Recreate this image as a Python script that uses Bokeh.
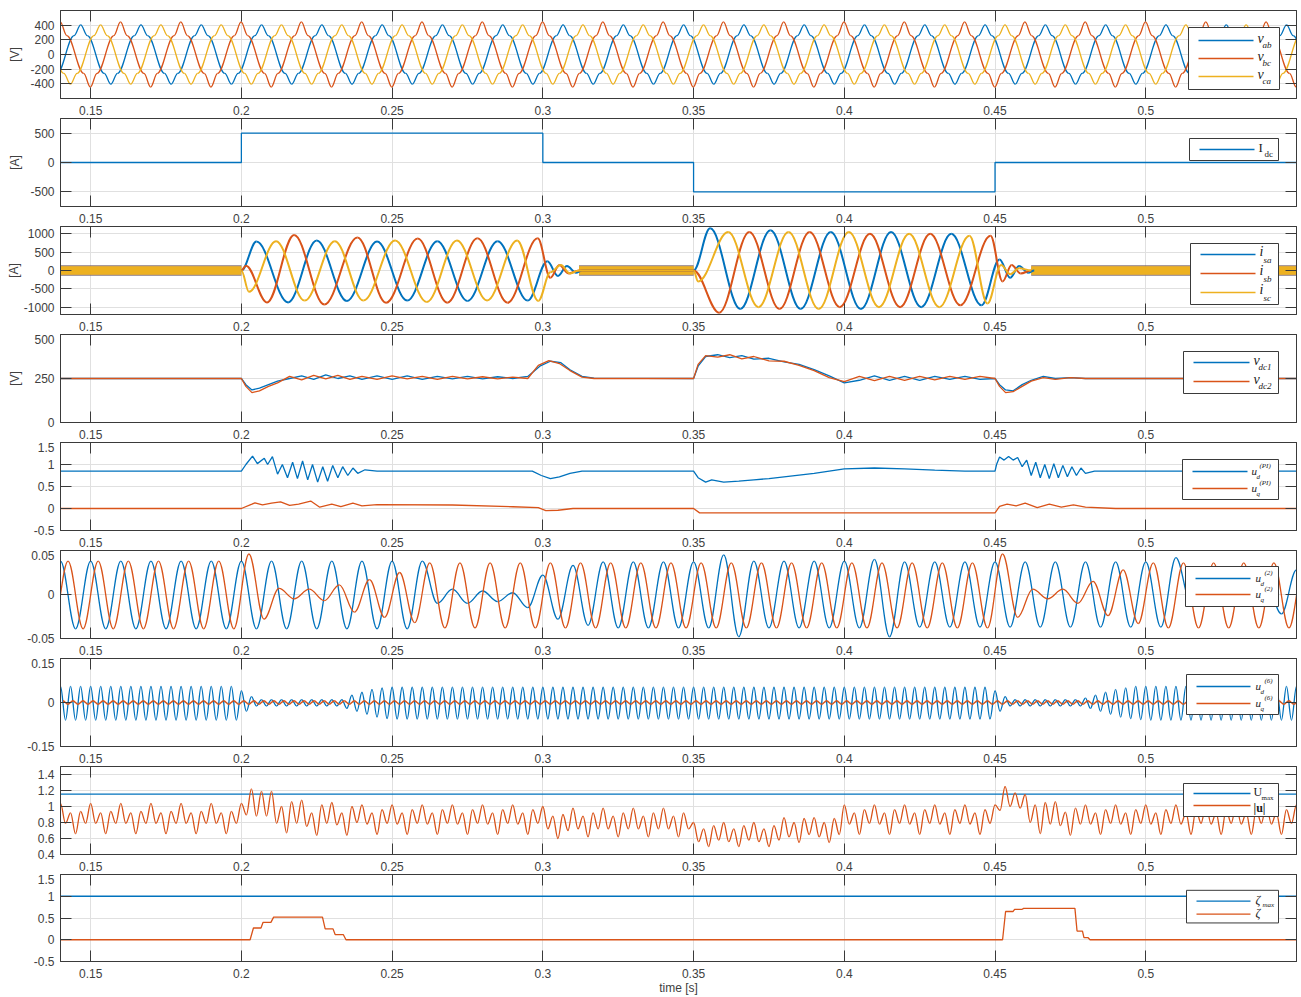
import numpy as np
from bokeh.plotting import figure
from bokeh.layouts import column
from bokeh.models import LinearAxis, FixedTicker, Range1d, NumeralTickFormatter, CustomJSTickFormatter
from bokeh.core.properties import value
from bokeh.embed import file_html
from bokeh.resources import INLINE

BLUE, RED, YEL = "#0072BD", "#D95319", "#EDB120"
AX = "#3a3a3a"
GRID = "#e0e0e0"
LBL = "#404040"
T0, T1 = 0.14, 0.55
x_ticks = [0.15, 0.2, 0.25, 0.3, 0.35, 0.4, 0.45, 0.5]

# ---------------- data ----------------
# Panel 1: line voltages (50 Hz), keypoints of one period [ms after peak]
v_period = 0.02
v_shape_ms = [0.0, 2.2, 7.8, 10.0, 12.2, 17.8]
v_shoulder = 258
v_ab_peak, v_bc_peak, v_ca_peak = 405, 445, 405
v_ab_first_peak, v_bc_first_peak, v_ca_first_peak = 0.1467, 0.1399, 0.1533

# Panel 2: dc current steps
idc_t = [0.14, 0.2, 0.3, 0.35, 0.45, 0.55]
idc_v = [0, 500, 0, -500, 0, 0]

# Panel 3: phase currents, extrema (t, value) during the active intervals; idle switching-noise band
i_noise_a, i_noise_b, i_noise_c = 150, 140, 115
i_idle = [(0.14, 0.2), (0.312, 0.35), (0.462, 0.55)]
isa_t = [0.2, 0.205, 0.2155, 0.225, 0.235, 0.245, 0.255, 0.265, 0.275, 0.285, 0.295, 0.3015, 0.305, 0.308, 0.311, 0.313,
         0.35, 0.3555, 0.3655, 0.3755, 0.3855, 0.3955, 0.4055, 0.4155, 0.4255, 0.4355, 0.4455, 0.4515, 0.455, 0.458, 0.461, 0.463]
isa_v = [0, 790, -870, 820, -830, 790, -820, 800, -830, 800, -820, 250, -150, 120, -60, 0,
         0, 1150, -1050, 1100, -1050, 1050, -1050, 1050, -1000, 1000, -950, 300, -200, 120, -60, 0]
isb_t = [0.2, 0.2015, 0.2085, 0.2175, 0.2275, 0.2385, 0.248, 0.2585, 0.2683, 0.2783, 0.2883, 0.2983, 0.3025, 0.3055, 0.3085, 0.312,
         0.35, 0.3585, 0.3685, 0.3785, 0.3885, 0.3985, 0.4085, 0.4185, 0.4285, 0.4385, 0.4485, 0.4525, 0.4555, 0.4585, 0.462]
isb_v = [0, 130, -870, 970, -930, 900, -880, 870, -880, 880, -880, 880, -200, 150, -80, 0,
         0, -1150, 1050, -1050, 1050, -1000, 1000, -1000, 1000, -950, 950, -300, 150, -80, 0]
isc_t = [0.2, 0.2025, 0.2115, 0.221, 0.231, 0.2405, 0.251, 0.2615, 0.2715, 0.2815, 0.2915, 0.2985, 0.3025, 0.306, 0.309, 0.312,
         0.35, 0.3515, 0.3615, 0.3715, 0.3815, 0.3915, 0.4015, 0.4115, 0.4215, 0.4315, 0.4415, 0.4475, 0.452, 0.455, 0.458, 0.462]
isc_v = [0, -580, 800, -820, 800, -820, 820, -860, 820, -820, 820, -830, -50, 150, -80, 0,
         0, -300, 1050, -1000, 1050, -1050, 1050, -1000, 1000, -1000, 950, -900, 150, -100, 60, 0]

# Panel 4: dc-link voltages (keypoints)
vdc1_t = [0.14, 0.2, 0.2015, 0.2035, 0.206, 0.209, 0.212, 0.216, 0.22, 0.224, 0.228, 0.232, 0.236, 0.24, 0.245, 0.25, 0.255,
          0.26, 0.265, 0.27, 0.275, 0.28, 0.285, 0.29, 0.295, 0.299, 0.3025, 0.306, 0.309, 0.313, 0.317, 0.35, 0.3515, 0.354,
          0.358, 0.362, 0.366, 0.37, 0.375, 0.38, 0.385, 0.39, 0.395, 0.4, 0.405, 0.41, 0.415, 0.42, 0.425, 0.43, 0.435,
          0.44, 0.445, 0.45, 0.4515, 0.4535, 0.456, 0.459, 0.462, 0.466, 0.47, 0.475, 0.48, 0.55]
vdc1_v = [250, 250, 215, 185, 195, 215, 235, 250, 265, 245, 270, 250, 265, 245, 265, 245, 265,
          245, 262, 248, 262, 248, 260, 250, 262, 320, 348, 340, 300, 262, 252, 250, 320, 375,
          385, 368, 380, 360, 365, 345, 330, 300, 265, 225, 240, 265, 240, 262, 240, 262, 245,
          262, 245, 250, 215, 185, 180, 215, 240, 262, 250, 255, 250, 250]
vdc2_t = [0.14, 0.2, 0.2015, 0.2035, 0.206, 0.209, 0.212, 0.216, 0.22, 0.224, 0.228, 0.232, 0.236, 0.24, 0.245, 0.25, 0.255,
          0.26, 0.265, 0.27, 0.275, 0.28, 0.285, 0.29, 0.295, 0.2985, 0.302, 0.3055, 0.309, 0.313, 0.317, 0.35, 0.3515, 0.354,
          0.358, 0.362, 0.366, 0.37, 0.375, 0.38, 0.385, 0.39, 0.395, 0.4, 0.405, 0.41, 0.415, 0.42, 0.425, 0.43, 0.435,
          0.44, 0.445, 0.45, 0.4515, 0.4535, 0.456, 0.459, 0.462, 0.466, 0.47, 0.475, 0.48, 0.55]
vdc2_v = [250, 250, 205, 170, 180, 205, 225, 262, 242, 268, 248, 268, 245, 262, 245, 265, 248,
          262, 245, 262, 248, 260, 248, 258, 250, 325, 352, 335, 295, 258, 250, 250, 330, 380,
          372, 385, 362, 375, 350, 348, 325, 295, 255, 232, 262, 238, 262, 240, 262, 242, 262,
          245, 262, 250, 205, 170, 175, 205, 235, 255, 245, 255, 250, 250]

# Panel 5: PI voltage references (keypoints)
ud_pi_t = [0.14, 0.2, 0.2015, 0.2037, 0.2053, 0.2076, 0.2087, 0.2103, 0.212, 0.2136, 0.2153, 0.217, 0.2186, 0.2203,
           0.222, 0.2236, 0.2253, 0.227, 0.2286, 0.2303, 0.232, 0.2336, 0.2353, 0.237, 0.2386, 0.241, 0.245, 0.2965,
           0.2995, 0.3025, 0.3055, 0.309, 0.313, 0.35, 0.3515, 0.354, 0.356, 0.36, 0.365, 0.37, 0.375, 0.38, 0.385,
           0.39, 0.395, 0.4, 0.41, 0.42, 0.43, 0.44, 0.45, 0.4505, 0.4515, 0.453, 0.4545, 0.456, 0.4575, 0.459,
           0.4605, 0.462, 0.4635, 0.465, 0.4665, 0.468, 0.4695, 0.471, 0.4725, 0.474, 0.4755, 0.477, 0.4785, 0.48,
           0.483, 0.55]
ud_pi_v = [0.85, 0.85, 1.0, 1.19, 1.02, 1.14, 1.0, 1.18, 0.78, 1.0, 0.7, 1.05, 0.68, 1.08, 0.65, 1.0, 0.6, 0.95,
           0.62, 0.98, 0.7, 0.95, 0.75, 0.92, 0.8, 0.88, 0.85, 0.85,
           0.75, 0.68, 0.72, 0.8, 0.85, 0.85, 0.7, 0.6, 0.65, 0.6, 0.62, 0.65, 0.68, 0.72, 0.76,
           0.8, 0.85, 0.9, 0.92, 0.9, 0.87, 0.85, 0.85, 1.0, 1.17, 1.1, 1.18, 1.1, 1.16, 0.95,
           1.1, 0.75, 1.05, 0.7, 1.0, 0.68, 1.02, 0.7, 0.98, 0.72, 0.95, 0.75, 0.92, 0.8,
           0.85, 0.85]
uq_pi_t = [0.14, 0.2, 0.2035, 0.2045, 0.207, 0.21, 0.213, 0.216, 0.219, 0.223, 0.226, 0.23, 0.233, 0.237, 0.24,
           0.245, 0.27, 0.29, 0.2985, 0.301, 0.305, 0.31, 0.35, 0.352, 0.45, 0.4515, 0.454, 0.457, 0.46, 0.464,
           0.468, 0.472, 0.476, 0.48, 0.49, 0.55]
uq_pi_v = [0.0, 0.0, 0.1, 0.13, 0.08, 0.12, 0.15, 0.07, 0.1, 0.17, 0.03, 0.1, 0.04, 0.12, 0.06, 0.09, 0.08, 0.04,
           0.02, -0.05, -0.04, 0.0, 0.0, -0.1, -0.1, 0.05, 0.1, 0.06, 0.12, 0.02, 0.1, 0.03, 0.08, 0.03, 0.0, 0.0]

# Panel 6: 2nd-harmonic references, extrema every half period (100 Hz)
u2_half = 0.005
u2d_first = 0.140
u2d_v = ([0.038, -0.039] * 12 + [0.038, -0.010, 0.006, -0.010, 0.004, -0.008, 0.002, -0.015, 0.022, -0.028, 0.033, -0.035]
         + [0.037, -0.038] * 4 + [0.045, -0.048] + [0.038, -0.038] * 4 + [0.040, -0.048] + [0.037, -0.037] * 9
         + [0.042, -0.010, 0.005, -0.010, 0.004, -0.012, 0.012, -0.022, 0.028, -0.033] + [0.037, -0.038] * 5 + [0.037])
u2q_first = 0.1375
u2q_v = ([-0.038] + [0.038, -0.039] * 6 + [0.046, -0.028, 0.007, -0.005, 0.006, -0.007, 0.011, -0.020, 0.017, -0.026,
         0.025, -0.032] + [0.036, -0.038] * 19 + [0.046, -0.026, 0.006, -0.005, 0.006, -0.010, 0.015, -0.024, 0.028,
         -0.033] + [0.036, -0.038] * 6)

# Panel 7: 6th-harmonic references, extrema every half period (300 Hz)
u6_half = 1.0 / 600
u6d_first = 0.140
u6d_v = ([0.055, -0.060] * 18 + [0.040, -0.030, 0.020] + [-0.012, 0.010] * 9
         + [-0.020, 0.025, -0.030, 0.035, -0.040, 0.045, -0.050, 0.050, -0.055] + [0.052, -0.056] * 60
         + [0.040, -0.030, 0.020] + [-0.012, 0.010] * 7 + [-0.012]
         + [0.015, -0.020, 0.025, -0.030, 0.035, -0.040, 0.045, -0.050, 0.050, -0.055, 0.055, -0.058]
         + [0.055, -0.060] * 16)
u6q_first = 0.1408
u6q_v = [0.006, -0.006] * 125

# Panel 8: |u| extrema every half period (300 Hz) and limit
umax = 1.155
uabs_first = 0.140
uabs_v = ([1.04, 0.79, 0.92, 0.66, 0.94, 0.79] * 6
          + [1.04, 0.895, 1.22, 0.88, 1.19, 0.88, 1.19, 0.79, 1.00, 0.67, 1.06, 0.79,
             1.08, 0.75, 0.92, 0.64, 1.02, 0.79, 1.05, 0.77, 0.92, 0.64, 1.00, 0.80]
          + [1.02, 0.78, 0.92, 0.65, 0.96, 0.79] * 6
          + [1.00, 0.72, 0.88, 0.60, 0.90, 0.70]
          + [0.98, 0.72, 0.88, 0.62, 0.92, 0.72] * 4
          + [0.80, 0.56, 0.72, 0.50, 0.76, 0.58] * 3
          + [0.86, 0.62, 0.80, 0.55, 0.85, 0.65] * 2
          + [1.02, 0.78, 0.92, 0.65, 0.96, 0.79] * 5
          + [1.02, 0.95, 1.25, 1.00, 1.17, 0.98]
          + [1.15, 0.80, 1.02, 0.66, 1.05, 0.78, 1.06, 0.76, 0.93, 0.64, 0.98, 0.78]
          + [1.02, 0.78, 0.92, 0.65, 0.96, 0.79] * 7 + [1.02])

# Panel 9: modulation-index variables
zeta_max = 1.0
zeta_t = [0.14, 0.2029, 0.2040, 0.2065, 0.2072, 0.2098, 0.2107, 0.2269, 0.2278, 0.2304, 0.2311, 0.2338, 0.2347,
          0.4525, 0.4535, 0.4560, 0.4565, 0.4590, 0.4595, 0.4765, 0.4772, 0.4790, 0.4795, 0.4808, 0.4815, 0.55]
zeta_v = [0, 0, 0.27, 0.27, 0.40, 0.40, 0.52, 0.52, 0.25, 0.25, 0.12, 0.12, 0,
          0, 0.65, 0.65, 0.70, 0.70, 0.72, 0.72, 0.20, 0.20, 0.05, 0.05, 0, 0]

# ---------------- helpers ----------------
FRAME_L, FRAME_W, FRAME_H, PANEL_STEP, FIRST_TOP = 60, 1236, 88, 108, 10


def smooth(p, ts, ys, color, width=1.3, k=0.36):
    ts = np.asarray(ts, float)
    ys = np.asarray(ys, float)
    d = np.diff(ts)
    p.bezier(x0=ts[:-1], y0=ys[:-1], x1=ts[1:], y1=ys[1:],
             cx0=ts[:-1] + k * d, cy0=ys[:-1], cx1=ts[1:] - k * d, cy1=ys[1:],
             line_color=color, line_width=width)


def regular_times(first, half, n):
    return first + half * np.arange(n)


def v_keypoints(first_peak, peak):
    vals = [peak, v_shoulder, -v_shoulder, -peak, -v_shoulder, v_shoulder]
    ts, ys = [], []
    k = -1
    while first_peak + k * v_period < T1 + v_period:
        base = first_peak + k * v_period
        for off, val in zip(v_shape_ms, vals):
            ts.append(base + off / 1000.0)
            ys.append(val)
        k += 1
    return ts, ys


def make_panel(idx, ylo, yhi, yticks, ylabel=None, label_gap=5):
    first = idx == 0
    last = idx == 8
    top_b = FIRST_TOP if first else 0
    bot_b = 35 if last else 20
    p = figure(width=1301, height=top_b + FRAME_H + bot_b, x_range=Range1d(T0, T1), y_range=Range1d(ylo, yhi),
               output_backend="svg", toolbar_location=None,
               min_border_left=FRAME_L, min_border_right=5, min_border_top=top_b,
               min_border_bottom=bot_b)
    p.outline_line_color = AX
    p.outline_line_width = 1
    p.add_layout(LinearAxis(), "above")
    p.add_layout(LinearAxis(), "right")
    for ax in p.xaxis:
        ax.ticker = FixedTicker(ticks=x_ticks)
    for ax in p.yaxis:
        ax.ticker = FixedTicker(ticks=yticks)
    for ax in p.axis:
        ax.formatter = NumeralTickFormatter(format="0.[00]")
        ax.axis_line_color = AX
        ax.axis_line_width = 1
        ax.major_tick_line_color = AX
        ax.major_tick_line_width = 1
        ax.major_tick_in = 11
        ax.major_tick_out = 0
        ax.minor_tick_line_color = None
        ax.major_label_text_font = "Liberation Sans"
        ax.major_label_text_font_size = "12px"
        ax.major_label_text_color = LBL
        ax.major_label_standoff = 6
    p.below[0].major_label_standoff = 7
    for ax in (p.above[0], p.right[0]):
        ax.formatter = CustomJSTickFormatter(code="return ''")
        ax.major_label_text_font_size = "0px"
        ax.major_label_standoff = 0
    p.xgrid.ticker = FixedTicker(ticks=x_ticks)
    p.ygrid.ticker = FixedTicker(ticks=yticks)
    p.xgrid.grid_line_color = GRID
    p.ygrid.grid_line_color = GRID
    if ylabel:
        p.yaxis[0].axis_label = ylabel
        p.yaxis[0].axis_label_text_font = "Liberation Sans"
        p.yaxis[0].axis_label_text_font_size = "12px"
        p.yaxis[0].axis_label_text_font_style = "normal"
        p.yaxis[0].axis_label_text_color = LBL
        p.yaxis[0].axis_label_standoff = label_gap
    if last:
        ax = p.below[0]
        ax.axis_label = "time [s]"
        ax.axis_label_text_font = "Liberation Sans"
        ax.axis_label_text_font_size = "12px"
        ax.axis_label_text_font_style = "normal"
        ax.axis_label_text_color = LBL
        ax.axis_label_standoff = 0
    p.background_fill_color = "white"
    p.border_fill_color = "white"
    top = FIRST_TOP + PANEL_STEP * idx

    def to_data(px, py):
        x = T0 + (px - FRAME_L) / FRAME_W * (T1 - T0)
        y = yhi - (py - top) / FRAME_H * (yhi - ylo)
        return x, y
    return p, to_data


def legend(p, conv, box, line_x, text_x, entries):
    l, t = conv(box[0], box[1])
    r, b = conv(box[2], box[3])
    p.quad(left=l, right=r, top=t, bottom=b, fill_color="white", line_color=AX, line_width=1, level="overlay")
    for color, py, parts in entries:
        x0, y = conv(line_x[0], py)
        x1, _ = conv(line_x[1], py)
        p.segment(x0=[x0], y0=[y], x1=[x1], y1=[y], line_color=color, line_width=1.3, level="overlay")
        for (txt, dx, dy, size, style) in parts:
            tx, ty = conv(text_x + dx, py + dy)
            p.text(x=[tx], y=[ty], text=[txt], text_font=value("Liberation Serif"), text_font_style=style,
                   text_font_size=size, text_color="#1a1a1a", text_baseline="middle", text_align="left",
                   level="overlay")


figs = []
W = 1.3

# Panel 1
p, cv = make_panel(0, -600, 600, [-400, -200, 0, 200, 400], "[V]", 5)
for fp, pk, col in ((v_ab_first_peak, v_ab_peak, BLUE), (v_bc_first_peak, v_bc_peak, RED), (v_ca_first_peak, v_ca_peak, YEL)):
    ts, ys = v_keypoints(fp, pk)
    smooth(p, ts, ys, col, W)
legend(p, cv, (1188, 27, 1279, 89), (1198, 1253), 1257,
       [(BLUE, 40, [("v", 0, -2, "14px", "italic"), ("ab", 5, 4, "9px", "italic")]),
        (RED, 58, [("v", 0, -2, "14px", "italic"), ("bc", 5, 4, "9px", "italic")]),
        (YEL, 76, [("v", 0, -2, "14px", "italic"), ("ca", 5, 4, "9px", "italic")])])
figs.append(p)

# Panel 2
p, cv = make_panel(1, -750, 750, [-500, 0, 500], "[A]", 5)
p.step(idc_t, idc_v, mode="after", line_color=BLUE, line_width=W)
legend(p, cv, (1189, 138, 1278, 160), (1199, 1254), 1258,
       [(BLUE, 149, [("I", 0, -2, "13px", "normal"), ("dc", 6, 4, "9px", "normal")])])
figs.append(p)

# Panel 3
p, cv = make_panel(2, -1200, 1200, [-1000, -500, 0, 500, 1000], "[A]", 0)
for a, b in i_idle:
    p.varea(x=[a, b], y1=[-i_noise_a, -i_noise_a], y2=[i_noise_a, i_noise_a], fill_color=BLUE, fill_alpha=0.45)
    p.varea(x=[a, b], y1=[-i_noise_b, -i_noise_b], y2=[i_noise_b, i_noise_b], fill_color=RED, fill_alpha=0.45)
    p.varea(x=[a, b], y1=[-i_noise_c, -i_noise_c], y2=[i_noise_c, i_noise_c], fill_color=YEL)
smooth(p, isa_t, isa_v, BLUE, 2.0)
smooth(p, isb_t, isb_v, RED, 2.0)
smooth(p, isc_t, isc_v, YEL, 2.0)
legend(p, cv, (1190, 243, 1278, 304), (1200, 1255), 1259,
       [(BLUE, 254, [("i", 0, -3, "14px", "italic"), ("sa", 4, 5, "9px", "italic")]),
        (RED, 273, [("i", 0, -3, "14px", "italic"), ("sb", 4, 5, "9px", "italic")]),
        (YEL, 292, [("i", 0, -3, "14px", "italic"), ("sc", 4, 5, "9px", "italic")])])
figs.append(p)

# Panel 4
p, cv = make_panel(3, 0, 500, [0, 250, 500], "[V]", 9)
p.line(vdc1_t, vdc1_v, line_color=BLUE, line_width=W)
p.line(vdc2_t, vdc2_v, line_color=RED, line_width=W)
legend(p, cv, (1183, 351, 1278, 393), (1193, 1249), 1253,
       [(BLUE, 362, [("v", 0, -2, "14px", "italic"), ("dc1", 5, 4, "9px", "italic")]),
        (RED, 381, [("v", 0, -2, "14px", "italic"), ("dc2", 5, 4, "9px", "italic")])])
figs.append(p)

# Panel 5
p, cv = make_panel(4, -0.5, 1.5, [-0.5, 0, 0.5, 1, 1.5])
p.line(ud_pi_t, ud_pi_v, line_color=BLUE, line_width=W)
p.line(uq_pi_t, uq_pi_v, line_color=RED, line_width=W)
legend(p, cv, (1182, 459, 1278, 499), (1192, 1247), 1251,
       [(BLUE, 471, [("u", 0, -1, "11px", "italic"), ("d", 5, 5, "7px", "italic"), ("(PI)", 8, -6, "7px", "italic")]),
        (RED, 488, [("u", 0, -1, "11px", "italic"), ("q", 5, 5, "7px", "italic"), ("(PI)", 8, -6, "7px", "italic")])])
figs.append(p)

# Panel 6
p, cv = make_panel(5, -0.05, 0.05, [-0.05, 0, 0.05])
smooth(p, regular_times(u2d_first, u2_half, len(u2d_v)), u2d_v, BLUE, W)
smooth(p, regular_times(u2q_first, u2_half, len(u2q_v)), u2q_v, RED, W)
legend(p, cv, (1185, 566, 1278, 606), (1195, 1250), 1255,
       [(BLUE, 578, [("u", 0, -1, "11px", "italic"), ("d", 5, 5, "7px", "italic"), ("(2)", 9, -6, "7px", "italic")]),
        (RED, 594, [("u", 0, -1, "11px", "italic"), ("q", 5, 5, "7px", "italic"), ("(2)", 9, -6, "7px", "italic")])])
figs.append(p)

# Panel 7
p, cv = make_panel(6, -0.15, 0.15, [-0.15, 0, 0.15])
smooth(p, regular_times(u6d_first, u6_half, len(u6d_v)), u6d_v, BLUE, W)
smooth(p, regular_times(u6q_first, u6_half, len(u6q_v)), u6q_v, RED, W)
legend(p, cv, (1186, 674, 1278, 714), (1196, 1250), 1255,
       [(BLUE, 686, [("u", 0, -1, "11px", "italic"), ("d", 5, 5, "7px", "italic"), ("(6)", 9, -6, "7px", "italic")]),
        (RED, 703, [("u", 0, -1, "11px", "italic"), ("q", 5, 5, "7px", "italic"), ("(6)", 9, -6, "7px", "italic")])])
figs.append(p)

# Panel 8
p, cv = make_panel(7, 0.4, 1.5, [0.4, 0.6, 0.8, 1, 1.2, 1.4])
p.line([T0, T1], [umax, umax], line_color=BLUE, line_width=W)
smooth(p, regular_times(uabs_first, u6_half, len(uabs_v)), uabs_v, RED, W)
legend(p, cv, (1183, 783, 1278, 816), (1193, 1250), 1253,
       [(BLUE, 793, [("U", 0, -2, "12px", "normal"), ("max", 8, 4, "7px", "normal")]),
        (RED, 805, [("|u|", 0, 2, "12px", "bold")])])
figs.append(p)

# Panel 9
p, cv = make_panel(8, -0.5, 1.5, [-0.5, 0, 0.5, 1, 1.5])
p.line([T0, T1], [zeta_max, zeta_max], line_color=BLUE, line_width=W)
p.line(zeta_t, zeta_v, line_color=RED, line_width=W)
legend(p, cv, (1186, 890, 1278, 923), (1196, 1250), 1255,
       [(BLUE, 901, [("ζ", 0, -1, "12px", "italic"), ("max", 7, 4, "7px", "italic")]),
        (RED, 914, [("ζ", 0, -1, "12px", "italic")])])
figs.append(p)

layout = column(*figs, spacing=0)
open("out.html", "w").write(file_html(layout, INLINE))
